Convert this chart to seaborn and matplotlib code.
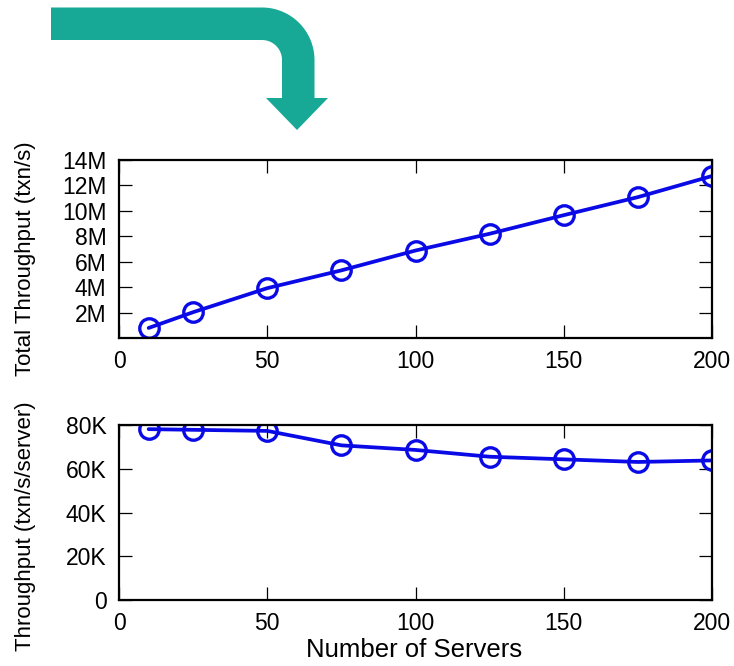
import numpy as np
import pandas as pd
import matplotlib
matplotlib.use("Agg")
import matplotlib.pyplot as plt
from matplotlib.patches import Polygon
import seaborn as sns

# Measured throughput vs. cluster size
servers = [10, 25, 50, 75, 100, 125, 150, 175, 200]
total_txn_per_s = [0.79e6, 2.03e6, 3.92e6, 5.32e6, 6.88e6, 8.20e6, 9.66e6, 11.08e6, 12.74e6]
per_server_txn_per_s = [78.1e3, 77.8e3, 77.3e3, 70.7e3, 68.6e3, 65.5e3, 64.3e3, 63.1e3, 63.8e3]

x_ticks = [0, 50, 100, 150, 200]
total_ticks = [2e6, 4e6, 6e6, 8e6, 10e6, 12e6, 14e6]
total_tick_labels = ["2M", "4M", "6M", "8M", "10M", "12M", "14M"]
per_server_ticks = [0, 20e3, 40e3, 60e3, 80e3]
per_server_tick_labels = ["0", "20K", "40K", "60K", "80K"]

df = pd.DataFrame({"servers": servers,
                   "total": total_txn_per_s,
                   "per_server": per_server_txn_per_s})

sns.set_style("ticks")
plt.rcParams["font.family"] = ["Liberation Sans", "DejaVu Sans"]
plt.rcParams["text.color"] = "black"

W, H = 734, 666
fig = plt.figure(figsize=(W / 100, H / 100), dpi=100)

# Bent arrow drawn in pixel space on a full-figure overlay
bg = fig.add_axes([0, 0, 1, 1], zorder=-1)
bg.set_xlim(0, W)
bg.set_ylim(H, 0)
bg.axis("off")
cx, cy, r_out, r_in = 262.0, 60.0, 52.5, 20.0
t = np.linspace(-np.pi / 2, 0, 30)
outer = np.column_stack([cx + r_out * np.cos(t), cy + r_out * np.sin(t)])
inner = np.column_stack([cx + r_in * np.cos(t[::-1]), cy + r_in * np.sin(t[::-1])])
pts = np.vstack([
    [[51, 7.5]],
    outer,
    [[cx + r_out, 98], [328, 98], [297, 130], [266, 98], [cx + r_in, 98]],
    inner,
    [[51, 40]],
])
bg.add_patch(Polygon(pts, closed=True, facecolor="#17a996", edgecolor="none"))

line_color = "#0a0ae6"
line_kws = dict(color=line_color, marker="o", markersize=14,
                markerfacecolor="none", markeredgecolor=line_color,
                markeredgewidth=2.4, linewidth=2.7)


def px_axes(left, top, right, bottom):
    return fig.add_axes([left / W, 1 - bottom / H, (right - left) / W, (bottom - top) / H])


def style(ax):
    ax.set_xlim(0, 200)
    ax.set_xticks(x_ticks)
    ax.tick_params(axis="both", which="major", direction="in", length=9.5, width=0.9,
                   top=True, right=True, labelsize=16.5, pad=9, colors="black",
                   labelcolor="black")
    for s in ax.spines.values():
        s.set_linewidth(1.6)
        s.set_color("black")
    ax.set_xlabel("")
    ax.set_ylabel("")


ax1 = px_axes(119, 160, 712, 338)
sns.lineplot(data=df, x="servers", y="total", ax=ax1, **line_kws)
style(ax1)
ax1.set_ylim(0, 14e6)
ax1.set_yticks(total_ticks)
ax1.set_yticklabels(total_tick_labels)

ax2 = px_axes(119, 425, 712, 600)
sns.lineplot(data=df, x="servers", y="per_server", ax=ax2, **line_kws)
style(ax2)
ax2.set_ylim(0, 80e3)
ax2.set_yticks(per_server_ticks)
ax2.set_yticklabels(per_server_tick_labels)

fig.text(25 / W, 1 - 259 / H, "Total Throughput (txn/s)", rotation=90,
         ha="center", va="center", fontsize=16, color="black")
fig.text(25 / W, 1 - 526 / H, "Throughput (txn/s/server)", rotation=90,
         ha="center", va="center", fontsize=16, color="black")
fig.text(414 / W, 1 - 650 / H, "Number of Servers", ha="center", va="center",
         fontsize=18.5, color="black")

fig.savefig("out.png", dpi=100)
